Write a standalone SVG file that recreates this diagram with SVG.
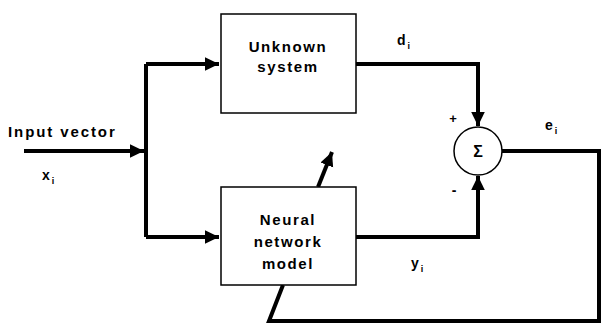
<svg xmlns="http://www.w3.org/2000/svg" width="601" height="323" viewBox="0 0 601 323">
<style>
text{font-family:"Liberation Sans",Arial,sans-serif;font-weight:bold;fill:#000}
.lbl{font-size:15px;letter-spacing:1.6px}
.sub{font-size:9px}
.var{font-size:14px}
.box{fill:#fff;stroke:#000;stroke-width:1.5}
.wire{fill:none;stroke:#000;stroke-width:4}
</style>
<defs>
<marker id="ah" markerWidth="5" markerHeight="5" refX="3.5" refY="2.5" orient="auto" markerUnits="strokeWidth">
<path d="M0,0.8 L3.5,2.5 L0,4.2 Z" fill="#000"/>
</marker>
</defs>
<rect width="601" height="323" fill="#fff"/>
<g id="connectors">
<path class="wire" d="M24,151 H144" marker-end="url(#ah)"/>
<path class="wire" d="M146,64 V237"/>
<path class="wire" d="M146,64 H219" marker-end="url(#ah)"/>
<path class="wire" d="M146,237 H219" marker-end="url(#ah)"/>
<path class="wire" d="M356,64 H478 V126" marker-end="url(#ah)"/>
<path class="wire" d="M356,237 H478 V176" marker-end="url(#ah)"/>
<path class="wire" d="M502,151 H599 V321 H269 L283,285"/>
<path class="wire" d="M318,187 L332,152" marker-end="url(#ah)"/>
</g>
<g id="unknown-system">
<rect class="box" x="221" y="14" width="135" height="99"/>
<text class="lbl" x="288" y="52" text-anchor="middle">Unknown</text>
<text class="lbl" x="288" y="72" text-anchor="middle">system</text>
</g>
<g id="neural-network">
<rect class="box" x="221" y="187" width="135" height="98"/>
<text class="lbl" x="288" y="225" text-anchor="middle">Neural</text>
<text class="lbl" x="288" y="247" text-anchor="middle">network</text>
<text class="lbl" x="288" y="269" text-anchor="middle">model</text>
</g>
<g id="sum">
<circle cx="478" cy="151" r="24" fill="#fff" stroke="#000" stroke-width="1.5"/>
<text x="478" y="157" font-size="16" text-anchor="middle">Σ</text>
<text x="453" y="123" font-size="13" text-anchor="middle">+</text>
<text x="454" y="195" font-size="14" text-anchor="middle">-</text>
</g>
<g id="labels">
<text class="lbl" x="8" y="137" style="letter-spacing:1.9px">Input vector</text>
<text class="var" x="42" y="180">x<tspan class="sub" dx="2" dy="4">i</tspan></text>
<text class="var" x="397" y="45">d<tspan class="sub" dx="2" dy="4">i</tspan></text>
<text class="var" x="545" y="130">e<tspan class="sub" dx="2" dy="4">i</tspan></text>
<text class="var" x="411" y="268">y<tspan class="sub" dx="2" dy="4">i</tspan></text>
</g>
</svg>
